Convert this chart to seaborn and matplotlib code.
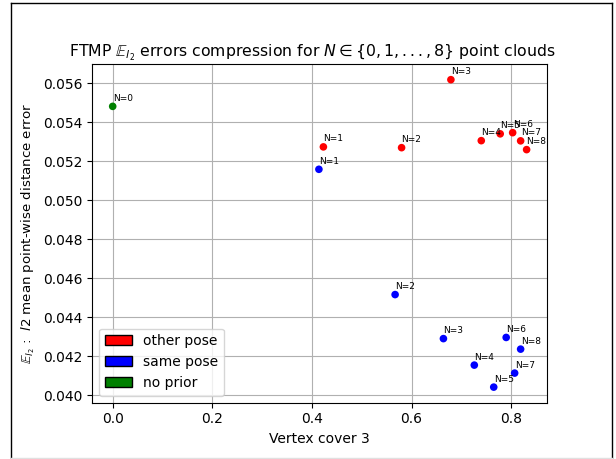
import matplotlib
matplotlib.use("Agg")
import matplotlib.pyplot as plt
from matplotlib.patches import Patch
from matplotlib.lines import Line2D
import seaborn as sns
import pandas as pd

# ---- data ----
other_x = [0.423, 0.580, 0.679, 0.740, 0.778, 0.803, 0.819, 0.831]
other_y = [0.05274, 0.05270, 0.05619, 0.05306, 0.05341, 0.05347, 0.05305, 0.05260]
other_n = [1, 2, 3, 4, 5, 6, 7, 8]

same_x = [0.414, 0.567, 0.664, 0.726, 0.765, 0.790, 0.807, 0.819]
same_y = [0.05159, 0.04516, 0.04290, 0.04154, 0.04041, 0.04296, 0.04113, 0.04236]
same_n = [1, 2, 3, 4, 5, 6, 7, 8]

none_x = [0.0]
none_y = [0.05482]
none_n = [0]

groups = ["other pose", "same pose", "no prior"]
colors = {"other pose": "red", "same pose": "blue", "no prior": "green"}

rows = []
for g, xs, ys, ns in [("other pose", other_x, other_y, other_n),
                      ("same pose", same_x, same_y, same_n),
                      ("no prior", none_x, none_y, none_n)]:
    for x, y, n in zip(xs, ys, ns):
        rows.append({"x": x, "y": y, "n": n, "group": g})
df = pd.DataFrame(rows)

fig = plt.figure(figsize=(6.16, 4.59), dpi=100)
ax = fig.add_axes([92 / 616, 1 - 402.5 / 459, (547.3 - 92) / 616, (402.5 - 64.3) / 459])

sns.scatterplot(data=df, x="x", y="y", hue="group", palette=colors,
                s=30, linewidth=0, legend=False, ax=ax, zorder=2)

for _, r in df.iterrows():
    ax.annotate(f"N={r['n']}", (r["x"], r["y"]), xytext=(0, 4),
                textcoords="offset points", fontsize=6.5, ha="left", va="baseline")

ax.grid(True)
ax.set_axisbelow(True)
ax.set_xlabel("Vertex cover 3")
ax.set_ylabel(r"$\mathbb{E}_{l_2}$ :  $l2$ mean point-wise distance error", fontsize=9.6)
ax.set_title(r"FTMP $\mathbb{E}_{l_2}$ errors compression for $N \in \{0, 1, ..., 8\}$ point clouds",
             fontsize=11.3, x=0.485)

handles = [Patch(facecolor=colors[g], edgecolor="black", label=g) for g in groups]
ax.legend(handles=handles, loc="lower left")

# figure border (screenshot frame)
W, H = 616, 459
fig.add_artist(Line2D([10.5 / W, 10.5 / W], [0, 1 - 2.5 / H], color="black", lw=1))
fig.add_artist(Line2D([10.5 / W, 611.5 / W], [1 - 2.5 / H, 1 - 2.5 / H], color="black", lw=1))
fig.add_artist(Line2D([611.5 / W, 611.5 / W], [0, 1 - 2.5 / H], color="black", lw=1))
fig.add_artist(Line2D([10.5 / W, 611.5 / W], [1.5 / H, 1.5 / H], color="#e0e0e0", lw=1))

fig.savefig("out.png", dpi=100)
